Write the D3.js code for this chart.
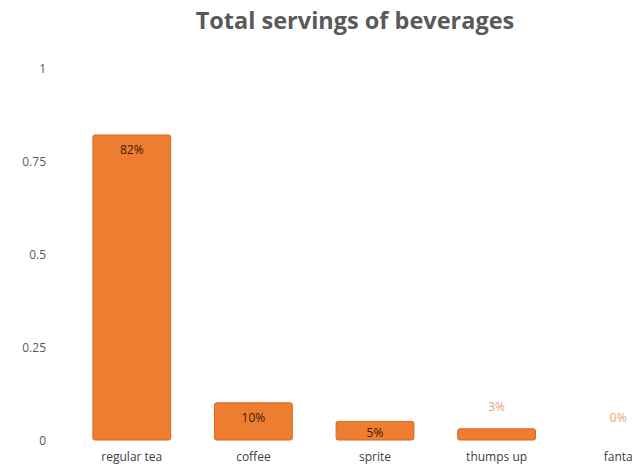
<!DOCTYPE html>
<html>
<head>
<meta charset="utf-8">
<script src="https://cdn.jsdelivr.net/npm/d3@7"></script>
<style>
  body { margin: 0; background: #fff; }
  text { font-family: "Open Sans", "Noto Sans", sans-serif; }
</style>
</head>
<body>
<svg id="chart" width="643" height="468"></svg>
<script>
// chart data
const categories = ["regular tea", "coffee", "sprite", "thumps up", "fanta"];
const servings = [0.82, 0.10, 0.05, 0.03, 0.00];
const valueLabels = ["82%", "10%", "5%", "3%", "0%"];
const yTicks = [0, 0.25, 0.5, 0.75, 1];

const svg = d3.select("#chart");
const barColor = "#ed7d31";

// plot area (right side runs past the window edge like the source)
const y = d3.scaleLinear().domain([0, 1]).range([440, 68]);
const x = d3.scaleBand()
    .domain(categories)
    .range([71, 679])
    .paddingInner(0.36)
    .paddingOuter(0.18);

// title
svg.append("text")
    .attr("x", 355)
    .attr("y", 29)
    .attr("text-anchor", "middle")
    .style("font-size", "23.5px")
    .style("font-weight", "bold")
    .style("fill", "#595959")
    .text("Total servings of beverages");

// y axis labels only, no line
const yAxis = svg.append("g")
    .attr("transform", "translate(46,1)")
    .call(d3.axisLeft(y).tickValues(yTicks).tickSize(0).tickPadding(0)
        .tickFormat(function(d) { return d3.format("")(d); }));
yAxis.select(".domain").remove();
yAxis.selectAll("text")
    .style("font-size", "12px")
    .style("font-family", "'Open Sans', sans-serif")
    .style("fill", "#595959");

// x axis labels
const xAxis = svg.append("g")
    .attr("transform", "translate(0,449)")
    .call(d3.axisBottom(x).tickSize(0).tickPadding(3));
xAxis.select(".domain").remove();
xAxis.selectAll("text")
    .style("font-size", "12px")
    .style("font-family", "'Open Sans', sans-serif")
    .style("fill", "#404040");

const data = categories.map(function(c, i) {
    return { name: c, value: servings[i], label: valueLabels[i] };
});

// bars
svg.selectAll(".bar")
    .data(data.filter(function(d) { return d.value > 0; }))
    .enter().append("rect")
    .attr("class", "bar")
    .attr("x", function(d) { return x(d.name); })
    .attr("y", function(d) { return y(d.value); })
    .attr("width", x.bandwidth())
    .attr("height", function(d) { return y(0) - y(d.value); })
    .attr("rx", 2)
    .style("fill", barColor)
    .style("stroke", "#d9691f")
    .style("stroke-width", 1);

// value labels: inside tall bars, above short ones
svg.selectAll(".val")
    .data(data)
    .enter().append("text")
    .attr("class", "val")
    .attr("x", function(d) { return x(d.name) + x.bandwidth() / 2; })
    .attr("y", function(d) {
        if (d.value >= 0.05) return Math.min(y(d.value) + 19, y(0) - 3);
        return y(d.value) - 18;
    })
    .attr("text-anchor", "middle")
    .style("font-size", "12px")
    .style("fill", function(d) { return d.value >= 0.05 ? "#3b1a05" : "#f0a070"; })
    .text(function(d) { return d.label; });
</script>
</body>
</html>
